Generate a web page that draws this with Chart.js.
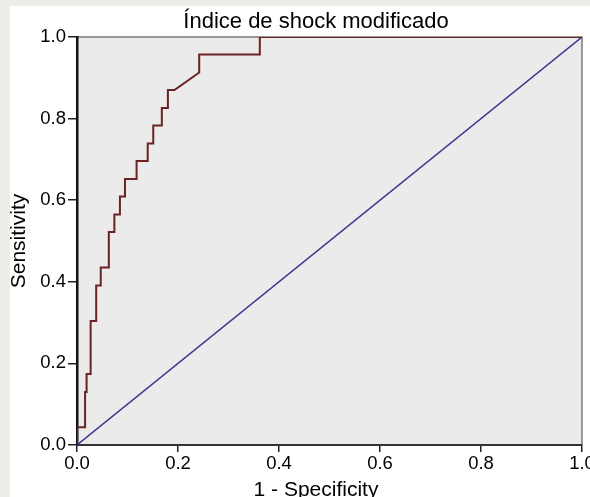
<!DOCTYPE html>
<html><head><meta charset="utf-8">
<script src="https://cdn.jsdelivr.net/npm/chart.js@4.4.0/dist/chart.umd.min.js"></script>
<style>html,body{margin:0;padding:0;background:#fff;}#wrap{width:590px;height:497px;}</style>
</head><body><div id="wrap"><canvas id="c" width="590" height="497"></canvas></div>
<script>
const chartTitle = "Índice de shock modificado";
const xAxisTitle = "1 - Specificity";
const yAxisTitle = "Sensitivity";
const tickValues = [0, 0.2, 0.4, 0.6, 0.8, 1.0];
const rocFpr = [0,0,0.016,0.016,0.019,0.019,0.027,0.027,0.038,0.038,0.047,0.047,0.063,0.063,0.074,0.074,0.085,0.085,0.095,0.095,0.118,0.118,0.140,0.140,0.151,0.151,0.168,0.168,0.180,0.180,0.193,0.242,0.242,0.362,0.362,1.0];
const rocTpr = [0,0.0435,0.0435,0.130,0.130,0.174,0.174,0.304,0.304,0.391,0.391,0.435,0.435,0.522,0.522,0.565,0.565,0.609,0.609,0.652,0.652,0.696,0.696,0.739,0.739,0.783,0.783,0.826,0.826,0.870,0.870,0.913,0.957,0.957,1.0,1.0];
const refX = [0, 1];
const refY = [0, 1];

const FONT = "'Liberation Sans', Arial, sans-serif";
const bgPlugin = {
  id: 'bg',
  beforeDraw(chart) {
    const {ctx, chartArea: a} = chart;
    ctx.save();
    ctx.fillStyle = '#ffffff';
    ctx.fillRect(0, 0, chart.width, chart.height);
    ctx.fillStyle = '#ededea';
    ctx.fillRect(0, 0, chart.width, 6);
    ctx.fillRect(0, 0, 10, chart.height);
    ctx.fillStyle = '#ebebeb';
    ctx.fillRect(a.left, a.top, a.right - a.left, a.bottom - a.top);
    ctx.strokeStyle = '#7a7a7a';
    ctx.lineWidth = 1.5;
    ctx.beginPath();
    ctx.moveTo(a.left, a.top); ctx.lineTo(a.right, a.top); ctx.lineTo(a.right, a.bottom);
    ctx.stroke();
    ctx.fillStyle = '#000';
    ctx.textAlign = 'center';
    ctx.textBaseline = 'alphabetic';
    const cx = 316;
    ctx.font = '22px ' + FONT;
    ctx.fillText(chartTitle, cx, 28);
    ctx.font = '21px ' + FONT;
    ctx.fillText(xAxisTitle, cx, 496);
    ctx.translate(25, (a.top + a.bottom) / 2);
    ctx.rotate(-Math.PI / 2);
    ctx.fillText(yAxisTitle, 0, 0);
    ctx.restore();
  }
};

new Chart(document.getElementById('c'), {
  type: 'scatter',
  data: {
    datasets: [
      { data: refX.map((x, i) => ({x, y: refY[i]})), showLine: true, borderColor: '#3f3a8f', borderWidth: 1.5, pointRadius: 0, order: 2 },
      { data: rocFpr.map((x, i) => ({x, y: rocTpr[i]})), showLine: true, borderColor: '#6b2224', borderWidth: 2, pointRadius: 0, order: 1 }
    ]
  },
  options: {
    responsive: false, animation: false, devicePixelRatio: 1,
    layout: { padding: { top: 37, right: 8, left: 0, bottom: 0 } },
    plugins: { legend: { display: false }, tooltip: { enabled: false } },
    scales: {
      x: {
        type: 'linear', min: 0, max: 1,
        afterBuildTicks: s => { s.ticks = tickValues.map(v => ({value: v})); },
        afterFit: s => { s.height = 52; s.paddingLeft = 0; s.paddingRight = 0; },
        ticks: { color: '#000', font: { family: FONT, size: 18.5 }, padding: 1, maxRotation: 0, callback: v => v.toFixed(1) },
        grid: { drawOnChartArea: false, tickLength: 7, color: '#222', lineWidth: 1.5 },
        border: { color: '#333', width: 2 }
      },
      y: {
        type: 'linear', min: 0, max: 1,
        afterBuildTicks: s => { s.ticks = tickValues.map(v => ({value: v})); },
        afterFit: s => { s.width = 77; s.paddingTop = 0; s.paddingBottom = 0; },
        ticks: { color: '#000', font: { family: FONT, size: 18.5 }, padding: 2, callback: v => v.toFixed(1) },
        grid: { drawOnChartArea: false, tickLength: 9, color: '#222', lineWidth: 1.5 },
        border: { color: '#111', width: 2.5 }
      }
    }
  },
  plugins: [bgPlugin]
});
</script></body></html>
